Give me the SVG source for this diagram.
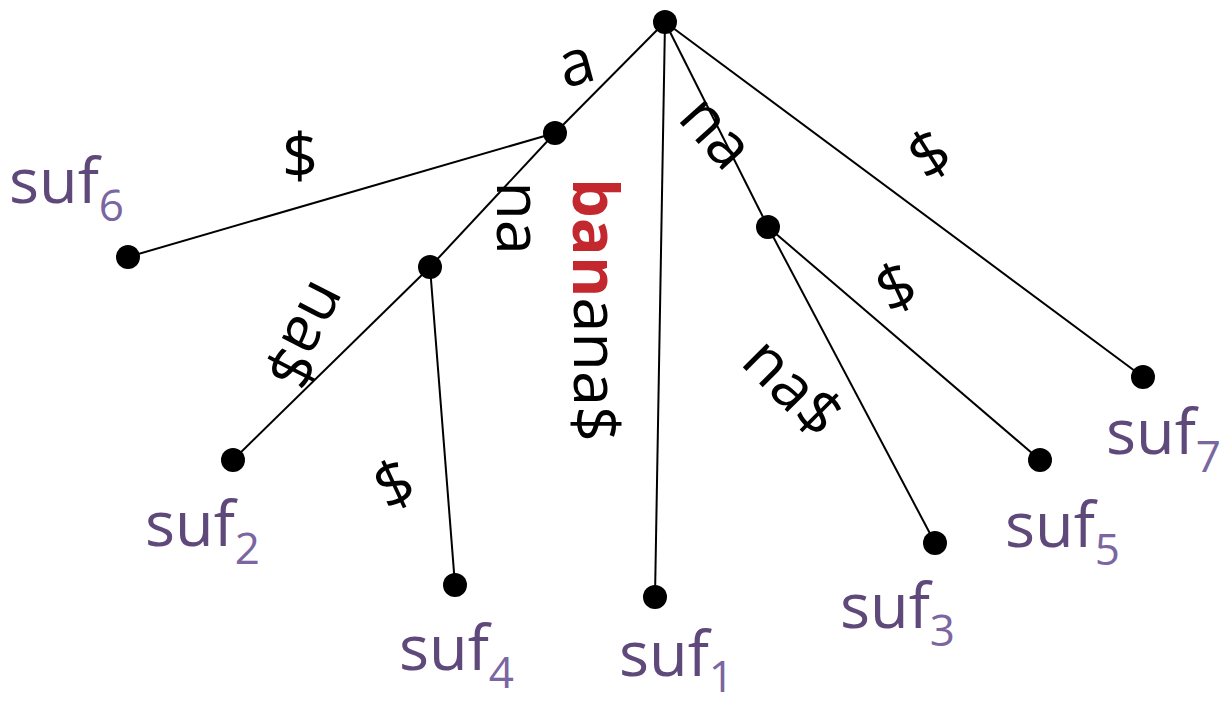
<svg xmlns="http://www.w3.org/2000/svg" width="1222" height="705" viewBox="0 0 1222 705">
<style>
.e{stroke:#000;stroke-width:2;fill:none}
.n{fill:#000}
.lab{font-family:"Open Sans","Noto Sans",sans-serif;font-size:63px;fill:#000;text-anchor:middle;dominant-baseline:central}
.suf{font-family:"Open Sans","Noto Sans",sans-serif;font-size:63px;fill:#5F497A}
.sub{font-size:44px;fill:#7A66A0}
.red{fill:#C3282E;font-weight:bold}
</style>
<rect width="1222" height="705" fill="#fff"/>
<g id="edges">
<line class="e" x1="665" y1="22" x2="555" y2="133"/>
<line class="e" x1="555" y1="133" x2="128" y2="257"/>
<line class="e" x1="555" y1="133" x2="430" y2="267"/>
<line class="e" x1="430" y1="267" x2="233" y2="460"/>
<line class="e" x1="430" y1="267" x2="455" y2="585"/>
<line class="e" x1="665" y1="22" x2="655" y2="597"/>
<line class="e" x1="665" y1="22" x2="768" y2="227"/>
<line class="e" x1="768" y1="227" x2="935" y2="543"/>
<line class="e" x1="768" y1="227" x2="1040" y2="460"/>
<line class="e" x1="665" y1="22" x2="1143" y2="377"/>
</g>
<g id="edge-labels">
<text class="lab" transform="translate(575,60) rotate(-15)">a</text>
<text class="lab" transform="translate(300,153)">$</text>
<text class="lab" transform="translate(521,218) rotate(90)">na</text>
<text class="lab" transform="translate(310,337) rotate(117)">na$</text>
<text class="lab" transform="translate(393,482) rotate(-25)">$</text>
<text class="lab" transform="translate(598,310) rotate(90)"><tspan class="red">ban</tspan>ana$</text>
<text class="lab" transform="translate(719,130) rotate(48)">na</text>
<text class="lab" transform="translate(928,152) rotate(-32)">$</text>
<text class="lab" transform="translate(895,285) rotate(-25)">$</text>
<text class="lab" transform="translate(795,385) rotate(45)">na$</text>
</g>
<g id="root"><circle class="n" cx="665" cy="22" r="12"/></g>
<g id="node-a"><circle class="n" cx="555" cy="133" r="12"/></g>
<g id="node-ana"><circle class="n" cx="430" cy="267" r="12"/></g>
<g id="node-na"><circle class="n" cx="768" cy="227" r="12"/></g>
<g id="suf6"><circle class="n" cx="128" cy="257" r="12"/><text class="suf" x="9" y="203">suf<tspan class="sub" dy="18">6</tspan></text></g>
<g id="suf2"><circle class="n" cx="233" cy="460" r="12"/><text class="suf" x="145" y="546">suf<tspan class="sub" dy="18">2</tspan></text></g>
<g id="suf4"><circle class="n" cx="455" cy="585" r="12"/><text class="suf" x="399" y="670">suf<tspan class="sub" dy="18">4</tspan></text></g>
<g id="suf1"><circle class="n" cx="655" cy="597" r="12"/><text class="suf" x="619" y="676">suf<tspan class="sub" dy="16">1</tspan></text></g>
<g id="suf3"><circle class="n" cx="935" cy="543" r="12"/><text class="suf" x="840" y="628">suf<tspan class="sub" dy="18">3</tspan></text></g>
<g id="suf5"><circle class="n" cx="1040" cy="460" r="12"/><text class="suf" x="1005" y="547">suf<tspan class="sub" dy="18">5</tspan></text></g>
<g id="suf7"><circle class="n" cx="1143" cy="377" r="12"/><text class="suf" x="1106" y="454">suf<tspan class="sub" dy="18">7</tspan></text></g>
</svg>
